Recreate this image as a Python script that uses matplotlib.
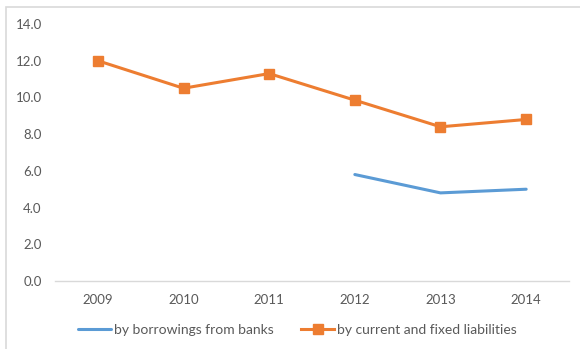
import matplotlib
matplotlib.use("Agg")
import matplotlib.pyplot as plt
from matplotlib.patches import Rectangle

years = ["2009", "2010", "2011", "2012", "2013", "2014"]
banks = [None, None, None, 5.8, 4.8, 5.0]
liabilities = [12.0, 10.5, 11.3, 9.85, 8.4, 8.8]
yticks = [0, 2, 4, 6, 8, 10, 12, 14]

plt.rcParams["font.family"] = ["Lato", "DejaVu Sans"]
W, H = 580, 349
fig = plt.figure(figsize=(W / 100, H / 100), dpi=100)

# outer chart frame
fig.patches.append(Rectangle((6 / W, -0.1), 1.2, 1 - 6.5 / H + 0.1,
                             transform=fig.transFigure, fill=False,
                             edgecolor="#D9D9D9", linewidth=1.2))

ax = fig.add_axes([55 / W, 1 - 281 / H, (569 - 55) / W, (281 - 24) / H])
x = list(range(len(years)))
bx = [i for i, v in zip(x, banks) if v is not None]
bv = [v for v in banks if v is not None]
ax.plot(bx, bv, color="#5B9BD5", linewidth=2.2, solid_capstyle="round",
        label="by borrowings from banks")
ax.plot(x, liabilities, color="#ED7D31", linewidth=2.2, marker="s",
        markersize=7.5, label="by current and fixed liabilities")

ax.set_xlim(-0.5, len(years) - 0.5)
ax.set_ylim(0, 14)
ax.set_xticks(x)
ax.set_xticklabels(years)
ax.set_yticks(yticks)
ax.set_yticklabels([f"{v:.1f}" for v in yticks])
ax.tick_params(length=0, labelsize=9.5, colors="#595959")
ax.tick_params(axis="x", pad=9)
ax.tick_params(axis="y", pad=9.5)
for s in ["top", "right", "left"]:
    ax.spines[s].set_visible(False)
ax.spines["bottom"].set_color("#D9D9D9")
ax.spines["bottom"].set_linewidth(1.0)

leg = fig.legend(loc="center", bbox_to_anchor=(297.5 / W, 1 - 330 / H), ncol=2,
                 frameon=False, fontsize=10, handlelength=2.35,
                 handletextpad=0.2, columnspacing=2.0, borderpad=0,
                 borderaxespad=0)
for t in leg.get_texts():
    t.set_color("#595959")

fig.savefig("out.png", dpi=100)
